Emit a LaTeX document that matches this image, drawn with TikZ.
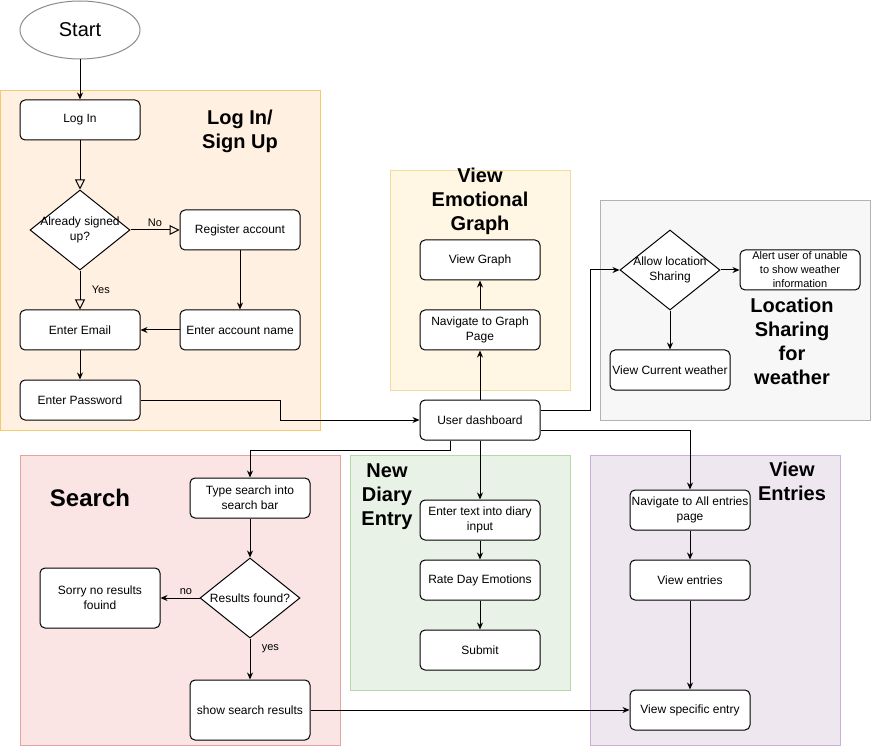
\documentclass[tikz,border=0pt]{standalone}
\usepackage{fontspec}
\setmainfont{Liberation Sans}
\usepackage{xcolor}
\usetikzlibrary{shapes.geometric,arrows.meta,positioning}
\definecolor{loginfill}{HTML}{FFF0E1}
\definecolor{loginline}{HTML}{F2CB6E}
\definecolor{graphfill}{HTML}{FFF7E3}
\definecolor{graphline}{HTML}{F2DC9C}
\definecolor{locfill}{HTML}{F7F7F7}
\definecolor{locline}{HTML}{B3B3B3}
\definecolor{searchfill}{HTML}{FAE4E4}
\definecolor{searchline}{HTML}{E3A3A3}
\definecolor{diaryfill}{HTML}{E9F2E7}
\definecolor{diaryline}{HTML}{B8D8A8}
\definecolor{entryfill}{HTML}{EEE7F0}
\definecolor{entryline}{HTML}{C9B2D8}
\tikzset{basic/.style={draw,fill=white,line width=1pt,
                       align=center,inner sep=1pt}}
\tikzset{box/.style={basic,rounded corners=5pt,minimum width=120pt,
                     minimum height=40pt,font=\fontsize{12}{15}\selectfont}}

\begin{document}
\begin{tikzpicture}[x=1pt,y=-1pt,>={Stealth[length=7pt,width=6pt]},
    % styles for clarity
    start/.style   ={basic,ellipse,draw=black!45,minimum width=120pt,
                     minimum height=58pt,font=\fontsize{20}{24}\selectfont},
    decision/.style={basic,diamond,minimum width=100pt,minimum height=80pt,
                     inner sep=0pt},
    dtext/.style   ={align=center,font=\fontsize{12}{15}\selectfont},
    title/.style   ={align=center,font=\bfseries\fontsize{20}{24}\selectfont},
    small/.style   ={font=\fontsize{11}{14}\selectfont},
    tri/.style     ={-{Triangle[open,length=10pt,width=10pt]}},
    flow/.style    ={->,line width=1pt}
  ]
    \fill[white] (0,0) rectangle (871,746);
    \useasboundingbox (0,0) rectangle (871,746);

    % group backgrounds
    \draw[draw=loginline,fill=loginfill] (0,90) rectangle (320,430);
    \draw[draw=graphline,fill=graphfill] (390,170) rectangle (570,390);
    \draw[draw=locline,fill=locfill] (600,200) rectangle (870,420);
    \draw[draw=searchline,fill=searchfill] (20,455) rectangle (340,745);
    \draw[draw=diaryline,fill=diaryfill] (350,455) rectangle (570,690);
    \draw[draw=entryline,fill=entryfill] (590,455) rectangle (840,745);

    % log in / sign up
    \node[start](start) at (80,30) {Start};
    \node[box](login) at (80,120) {Log In};
    \node[decision,label={[dtext]center:Already signed\\up?}](signed) at (80,230) {};
    \node[box](register) at (240,230) {Register account};
    \node[box](accname) at (240,330) {Enter account name};
    \node[box](email) at (80,330) {Enter Email};
    \node[box](password) at (80,400) {Enter Password};
    \node[title](tlogin) at (240,131) {Log In/\\Sign Up};

    % dashboard and graph
    \node[box](dash) at (480,420) {User dashboard};
    \node[box](navgraph) at (480,330) {Navigate to Graph\\Page};
    \node[box](viewgraph) at (480,260) {View Graph};
    \node[title](tgraph) at (480,201) {View\\Emotional\\Graph};

    % location sharing
    \node[decision,label={[dtext]center:Allow location\\Sharing}](allow) at (670,270) {};
    \node[box,small](alert) at (800,270) {Alert user of unable\\to show weather\\information};
    \node[box](weather) at (670,370) {View Current weather};
    \node[title](tloc) at (792,341) {Location\\Sharing\\for\\weather};

    % search
    \node[box](typesearch) at (250,498) {Type search into\\search bar};
    \node[decision,label={[dtext]center:Results found?}](results) at (250,598) {};
    \node[box,minimum height=60pt](sorry) at (100,598) {Sorry no results\\fouind};
    \node[box,minimum height=60pt](showres) at (250,710) {show search results};
    \node[title,font=\bfseries\fontsize{24}{28}\selectfont](tsearch) at (90,498) {Search};

    % new diary entry
    \node[box](entertext) at (480,520) {Enter text into diary\\input};
    \node[box](rate) at (480,580) {Rate Day Emotions};
    \node[box](submit) at (480,650) {Submit};
    \node[title](tdiary) at (387,497) {New\\Diary\\Entry};

    % view entries
    \node[box](navall) at (690,510) {Navigate to All entries\\page};
    \node[box](viewent) at (690,580) {View entries};
    \node[box](specific) at (690,710) {View specific entry};
    \node[title](tentries) at (792,481) {View\\Entries};

    \draw[flow] (start) -- (login);
    \draw[tri,line width=1pt] (login) -- (signed);
    \draw[tri,line width=1pt] (signed) -- node[above,small]{No} (register);
    \draw[tri,line width=1pt] (signed) -- node[right=8pt,small]{Yes} (email);
    \draw[flow] (register) -- (accname);
    \draw[flow] (accname) -- (email);
    \draw[flow] (email) -- (password);
    \draw[flow] (password.east) -- ++(140,0) |- (dash.west);

    \draw[flow] (dash) -- (navgraph);
    \draw[flow] (navgraph) -- (viewgraph);
    \draw[flow] ([yshift=10pt]dash.east) -- ++(50,0) |- (allow.west);
    \draw[flow] (allow) -- (alert);
    \draw[flow] (allow) -- (weather);

    \draw[flow] ([xshift=-30pt]dash.south) -- ++(0,10) -| (typesearch.north);
    \draw[flow] (typesearch) -- (results);
    \draw[flow] (results) -- node[above,small,xshift=6pt]{no} (sorry);
    \draw[flow] (results) -- node[pos=0.25,right=8pt,small]{yes} (showres);
    \draw[flow] (showres) -- (specific);

    \draw[flow] (dash) -- (entertext);
    \draw[flow] (entertext) -- (rate);
    \draw[flow] (rate) -- (submit);

    \draw[flow] ([yshift=-10pt]dash.east) -| (navall.north);
    \draw[flow] (navall) -- (viewent);
    \draw[flow] (viewent) -- (specific);
  \end{tikzpicture}
\end{document}
